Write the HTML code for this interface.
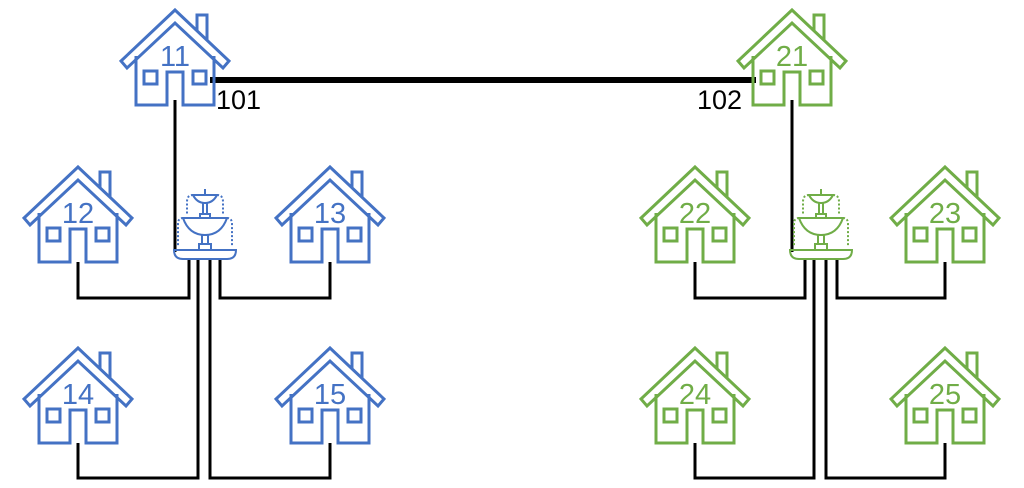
<!DOCTYPE html>
<html><head><meta charset="utf-8"><style>
html,body{margin:0;padding:0;background:#fff;width:1024px;height:488px;overflow:hidden}
svg text{font-family:"Liberation Sans",sans-serif}
</style></head><body>
<svg width="1024" height="488" viewBox="0 0 1024 488">
<defs>
<g id="house" fill="none" stroke-width="3" stroke-linejoin="miter">
  <rect x="22" y="5" width="10" height="24" fill="#fff"/>
  <polygon points="0,0 54,51 48,58 0,13 -48,58 -54,51" fill="#fff"/>
  <polyline points="-39,46 -39,95 -8,95 -8,62 8,62 8,95 39,95 39,46"/>
  <rect x="-31" y="61" width="13" height="13"/>
  <rect x="18" y="61" width="13" height="13"/>
</g>
<g id="fountain" fill="none" stroke-width="2">
  <path d="M-31,0 L31,0 Q31,9 22,9 L-22,9 Q-31,9 -31,0 Z"/>
  <path d="M-22,-32 L22,-32 Q16,-15 0,-15 Q-16,-15 -22,-32 Z"/>
  <rect x="-3" y="-15" width="6" height="9"/>
  <rect x="-6" y="-6" width="12" height="6"/>
  <path d="M-12,-55 L12,-55 Q8,-47 0,-47 Q-8,-47 -12,-55 Z"/>
  <rect x="-2" y="-47" width="4" height="11"/>
  <rect x="-5" y="-36" width="10" height="4"/>
  <line x1="0" y1="-55" x2="0" y2="-61"/>
  <path d="M-12,-55 Q-18,-55 -18,-48 L-18,-35 M12,-55 Q18,-55 18,-48 L18,-35 M-22,-32 Q-27,-32 -27,-26 L-27,-3 M22,-32 Q27,-32 27,-26 L27,-3" stroke-dasharray="2,2"/>
</g>
</defs>
<g stroke="#000" stroke-width="3" fill="none">
  <line x1="210" y1="80" x2="756" y2="80" stroke-width="6"/>
  <line x1="175" y1="100" x2="175" y2="252"/>
  <polyline points="189,258 189,298 78,298 78,262"/>
  <polyline points="220,258 220,298 330,298 330,262"/>
  <polyline points="198,258 198,478 78,478 78,443"/>
  <polyline points="210,258 210,478 330,478 330,443"/>
  <line x1="792" y1="100" x2="792" y2="252"/>
  <polyline points="805,258 805,298 695,298 695,262"/>
  <polyline points="837,258 837,298 945,298 945,262"/>
  <polyline points="814,258 814,478 695,478 695,443"/>
  <polyline points="826,258 826,478 945,478 945,443"/>
</g>
<text x="216" y="109" font-size="27">101</text>
<text x="697" y="109" font-size="27">102</text>
<g fill="#fff" stroke="#4472C4"><use href="#fountain" x="205" y="250" stroke="#4472C4"/></g>
<g fill="#fff" stroke="#70AD47"><use href="#fountain" x="821" y="250" stroke="#70AD47"/></g>
<g stroke="#4472C4">
  <use href="#house" x="175" y="10"/>
  <use href="#house" x="78" y="167"/>
  <use href="#house" x="330" y="167"/>
  <use href="#house" x="78" y="348"/>
  <use href="#house" x="330" y="348"/>
</g>
<g font-size="29" text-anchor="middle" fill="#4472C4">
  <text x="175" y="66">11</text>
  <text x="78" y="223">12</text>
  <text x="330" y="223">13</text>
  <text x="78" y="404">14</text>
  <text x="330" y="404">15</text>
</g>
<g stroke="#70AD47">
  <use href="#house" x="792" y="10"/>
  <use href="#house" x="695" y="167"/>
  <use href="#house" x="945" y="167"/>
  <use href="#house" x="695" y="348"/>
  <use href="#house" x="945" y="348"/>
</g>
<g font-size="29" text-anchor="middle" fill="#70AD47">
  <text x="792" y="66">21</text>
  <text x="695" y="223">22</text>
  <text x="945" y="223">23</text>
  <text x="695" y="404">24</text>
  <text x="945" y="404">25</text>
</g>
</svg>
</body></html>
